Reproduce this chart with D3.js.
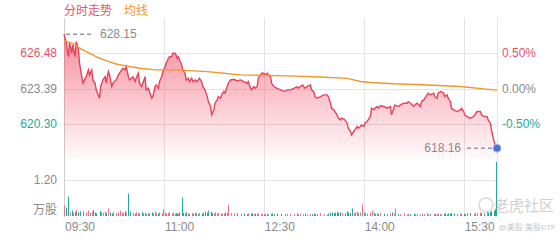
<!DOCTYPE html>
<html>
<head>
<meta charset="utf-8">
<script src="https://cdn.jsdelivr.net/npm/d3@7"></script>
<style>
  body { margin: 0; background: #fff; }
  text { font-family: "Liberation Sans", Arial, "Noto Sans CJK SC", sans-serif; }
</style>
</head>
<body>
<div id="chart"></div>
<script>
// minutes after 09:30 and last price
var minutes = [
  0,2,4,5,7,8,10,11,13,14,
  17,20,22,23,25,26,28,29,32,33,
  35,37,38,40,41,43,44,47,49,50,
  52,53,55,56,58,59,62,64,65,67,
  68,70,71,73,74,76,77,79,80,82,
  83,85,86,88,89,91,92,94,95,97,
  98,100,101,102,103,104,106,107,109,110,
  112,113,115,116,118,119,121,122,124,125,
  127,129,130,132,133,135,136,138,139,141,
  142,144,145,147,148,150,153,156,159,162,
  165,166,168,169,171,172,174,175,177,178,
  180,181,183,184,186,187,189,192,195,199,
  201,204,207,210,211,213,215,217,219,222,
  223,225,226,228,231,234,237,238,240,241,
  243,244,246,247,249,250,253,255,256,258,
  259,261,262,264,265,267,268,270,271,273,
  276,277,279,280,282,283,285,288,291,294,
  295,297,298,301,303,306,309,310,312,315,
  316,318,321,322,324,327,328,330,333,334,
  336,337,339,340,342,343,345,346,348,349,
  351,354,357,358,360,361,363,366,369,370,
  372,375,376,378,381,382,384,385,387,388,
  390
];
var prices = [
  628.15,627.38,626.18,627.38,626.51,627.21,626.18,627.50,626.77,625.60,
  623.85,624.43,625.02,624.58,625.02,624.14,623.85,623.27,622.54,623.56,
  624.14,624.43,623.85,624.87,624.58,623.56,623.85,624.14,624.58,624.73,
  625.02,625.17,625.02,625.31,624.43,624.14,624.43,623.99,624.29,624.73,
  623.85,623.56,623.85,624.43,623.27,623.41,623.12,622.54,622.68,623.56,
  623.70,623.41,623.99,624.43,624.87,625.31,625.60,626.04,626.18,626.18,
  626.48,626.48,626.33,626.04,626.18,625.89,625.46,625.02,624.73,624.14,
  624.29,623.99,624.29,623.99,624.14,623.99,624.14,624.29,623.99,623.56,
  623.27,622.68,622.24,621.81,621.08,621.52,622.10,622.39,622.68,622.54,
  622.83,623.12,622.98,623.56,623.85,624.14,624.20,624.05,624.14,623.99,
  623.85,623.99,623.41,623.27,623.56,623.41,623.56,624.29,624.58,624.73,
  624.73,624.58,624.73,624.58,624.43,623.85,623.56,623.41,623.27,623.12,
  623.27,623.27,623.41,623.56,623.41,623.56,623.70,623.41,623.56,623.70,
  623.27,623.12,622.68,622.54,622.68,622.83,622.83,622.68,622.10,621.66,
  621.52,621.37,621.08,620.79,620.64,620.79,620.64,620.35,619.91,619.62,
  619.33,619.62,619.77,620.06,619.91,620.06,620.20,620.06,620.35,620.49,
  620.96,621.66,621.52,621.66,621.81,621.66,621.87,621.81,621.66,621.81,
  621.08,621.66,621.95,621.81,621.95,622.10,622.10,622.24,622.10,621.81,
  621.95,622.10,621.81,622.24,622.39,622.83,622.98,622.83,622.98,622.68,
  622.54,622.98,623.12,623.12,622.98,622.68,622.83,622.54,622.24,621.66,
  621.52,621.37,621.52,621.66,621.37,621.08,620.93,620.79,620.93,621.08,
  621.37,621.37,621.08,620.93,620.93,620.64,620.35,619.77,618.89,618.54,
  618.16
];
// volume, 10k shares
var volumes = [
  0.35,0.28,0.65,0.12,0.18,0.10,0.14,0.20,0.12,0.16,
  0.15,0.12,0.18,0.10,0.14,0.20,0.12,0.09,0.16,0.13,
  0.11,0.15,0.10,0.25,0.12,0.08,0.14,0.10,0.12,0.18,
  0.12,0.09,0.16,0.11,0.75,0.14,0.10,0.08,0.12,0.10,
  0.08,0.13,0.09,0.11,0.07,0.10,0.08,0.12,0.09,0.14,
  0.10,0.08,0.12,0.09,0.22,0.11,0.08,0.10,0.13,0.09,
  0.12,0.08,0.10,0.07,0.09,0.11,0.62,0.10,0.08,0.12,
  0.09,0.07,0.10,0.08,0.12,0.09,0.07,0.10,0.08,0.11,
  0.15,0.12,0.18,0.14,0.10,0.09,0.12,0.08,0.10,0.07,
  0.09,0.08,0.12,0.10,0.38,0.10,0.08,0.09,0.07,0.08,
  0.06,0.09,0.07,0.10,0.06,0.08,0.07,0.09,0.06,0.08,
  0.07,0.06,0.08,0.05,0.07,0.09,0.06,0.08,0.07,0.06,
  0.08,0.06,0.07,0.09,0.05,0.07,0.06,0.08,0.05,0.07,
  0.06,0.08,0.07,0.06,0.09,0.07,0.05,0.08,0.10,0.12,
  0.09,0.11,0.14,0.10,0.12,0.09,0.08,0.15,0.12,0.10,
  0.25,0.10,0.12,0.14,0.09,0.11,0.38,0.12,0.10,0.08,
  0.12,0.18,0.10,0.08,0.09,0.07,0.10,0.08,0.06,0.09,
  0.12,0.08,0.25,0.07,0.06,0.08,0.05,0.07,0.06,0.08,
  0.06,0.07,0.05,0.08,0.06,0.09,0.07,0.06,0.08,0.07,
  0.06,0.08,0.07,0.05,0.07,0.09,0.06,0.08,0.07,0.10,
  0.08,0.06,0.09,0.07,0.08,0.06,0.09,0.10,0.08,0.11,
  0.09,0.12,0.10,0.08,0.13,0.11,0.14,0.16,0.18,0.22,
  1.80
];
// average price line
var avgMinutes = [0,2,8,14,20,26,32,38,47,56,68,83,98,113,129,144,159,177,201,231,255,267,276,297,327,357,387,390];
var avgPrices = [627.60,627.50,627.35,626.92,626.62,626.33,626.04,625.83,625.54,625.37,625.17,625.02,625.02,624.96,624.87,624.73,624.58,624.55,624.50,624.40,624.28,624.00,623.92,623.80,623.70,623.56,623.27,623.25];

var priceTicks = [626.48, 623.39, 620.30];
var pctTicks = ["0.50%", "0.00%", "-0.50%"];
var timeTicks = [0, 90, 180, 270, 360];
var timeLabels = ["09:30", "11:00", "12:30", "14:00", "15:30"];
var highPrice = 628.15, lastPrice = 618.16;

var svgWidth = 560, svgHeight = 240;
var left = 64, right = 497;

var RED = "#e8506a", TEAL = "#22aa9c", GRAY = "#8a8a8a", GRID = "#e4e4e4";

var svg = d3.select("#chart").append("svg")
  .attr("width", svgWidth).attr("height", svgHeight);

var x = d3.scaleLinear().domain([0, 390]).range([left, right]);
var y = d3.scaleLinear().domain([617.21, 629.57]).range([159, 18]);
var yv = d3.scaleLinear().domain([0, 1.2]).range([216, 180]);

var data = minutes.map((m, i) => ({ m: m, p: prices[i], v: volumes[i], up: i == 0 || prices[i] >= prices[i - 1] }));
var avgData = avgMinutes.map((m, i) => ({ m: m, p: avgPrices[i] }));

// gradient for area
var grad = svg.append("defs").append("linearGradient")
  .attr("id", "fill").attr("x1", 0).attr("y1", 0).attr("x2", 0).attr("y2", 1);
grad.append("stop").attr("offset", "0%").attr("stop-color", "#f04a64").attr("stop-opacity", 0.62);
grad.append("stop").attr("offset", "100%").attr("stop-color", "#f04a64").attr("stop-opacity", 0.03);

// grid
var grid = svg.append("g");
grid.selectAll(".hg").data(priceTicks).enter().append("line")
  .attr("x1", left).attr("x2", right)
  .attr("y1", d => Math.round(y(d)) + 0.5).attr("y2", d => Math.round(y(d)) + 0.5)
  .attr("stroke", GRID);
grid.append("line")
  .attr("x1", left).attr("x2", right)
  .attr("y1", Math.round(yv(1.2)) + 0.5).attr("y2", Math.round(yv(1.2)) + 0.5)
  .attr("stroke", GRID);
grid.selectAll(".vg").data(timeTicks.concat([390])).enter().append("line")
  .attr("x1", d => Math.round(x(d)) + 0.5).attr("x2", d => Math.round(x(d)) + 0.5)
  .attr("y1", 18).attr("y2", 217)
  .attr("stroke", (d, i) => i == 0 ? "#cfcfcf" : GRID);

// area + line
var area = d3.area().x(d => x(d.m)).y0(159).y1(d => y(d.p));
svg.append("path").datum(data).attr("d", area).attr("fill", "url(#fill)");

var line = d3.line().x(d => x(d.m)).y(d => y(d.p));
svg.append("path").datum(data).attr("d", line)
  .attr("fill", "none").attr("stroke", "#e8415c").attr("stroke-width", 1.4);

svg.append("path").datum(avgData).attr("d", line)
  .attr("fill", "none").attr("stroke", "#f0962e").attr("stroke-width", 1.4);

// volume bars
svg.selectAll(".vol").data(data).enter().append("rect")
  .attr("x", d => Math.round(x(d.m)) - (d.m == 390 ? 1 : 0))
  .attr("y", d => yv(d.v))
  .attr("width", 1)
  .attr("height", d => yv(0) - yv(d.v))
  .attr("fill", d => d.up ? "#ef6f86" : TEAL);

// left labels
var tickColors = [RED, GRAY, TEAL];
svg.selectAll(".lt").data(priceTicks).enter().append("text")
  .attr("x", 57).attr("y", d => y(d)).attr("dy", "0.35em")
  .attr("text-anchor", "end").attr("font-size", 12)
  .attr("fill", (d, i) => tickColors[i])
  .text(d => d.toFixed(2));
svg.selectAll(".rt").data(pctTicks).enter().append("text")
  .attr("x", 502).attr("y", (d, i) => y(priceTicks[i])).attr("dy", "0.35em")
  .attr("font-size", 12)
  .attr("fill", (d, i) => tickColors[i])
  .text(d => d);
svg.append("text").attr("x", 57).attr("y", yv(1.2)).attr("dy", "0.35em")
  .attr("text-anchor", "end").attr("font-size", 12).attr("fill", GRAY).text("1.20");
svg.append("text").attr("x", 57).attr("y", 210).attr("dy", "0.35em")
  .attr("text-anchor", "end").attr("font-size", 12).attr("fill", GRAY).text("万股");

// time labels
svg.selectAll(".tt").data(timeTicks).enter().append("text")
  .attr("x", d => x(d) + 1).attr("y", 231)
  .attr("font-size", 12).attr("fill", GRAY)
  .text((d, i) => timeLabels[i]);

// header
svg.append("text").attr("x", 64).attr("y", 15).attr("font-size", 12).attr("fill", RED).text("分时走势");
svg.append("text").attr("x", 124).attr("y", 15).attr("font-size", 12).attr("fill", "#f0962e").text("均线");

// high marker
svg.append("line").attr("x1", 66).attr("x2", 94)
  .attr("y1", y(highPrice)).attr("y2", y(highPrice))
  .attr("stroke", "#8e9aa8").attr("stroke-width", 1.5).attr("stroke-dasharray", "4,3");
svg.append("text").attr("x", 100).attr("y", y(highPrice)).attr("dy", "0.35em")
  .attr("font-size", 12).attr("fill", GRAY).text(highPrice.toFixed(2));

// last marker
svg.append("line").attr("x1", 467).attr("x2", 494)
  .attr("y1", y(lastPrice)).attr("y2", y(lastPrice))
  .attr("stroke", "#8e9aa8").attr("stroke-width", 1.5).attr("stroke-dasharray", "4,3");
svg.append("text").attr("x", 461).attr("y", y(lastPrice)).attr("dy", "0.35em")
  .attr("text-anchor", "end").attr("font-size", 12).attr("fill", GRAY).text(lastPrice.toFixed(2));
svg.append("circle").attr("cx", x(390)).attr("cy", y(lastPrice)).attr("r", 4)
  .attr("fill", "#4a72d6").attr("stroke", "#a9bdf0").attr("stroke-width", 1);

// watermark
var wm = svg.append("g").attr("opacity", 0.55);
wm.append("circle").attr("cx", 486).attr("cy", 205).attr("r", 7)
  .attr("fill", "none").attr("stroke", "#bbb").attr("stroke-width", 1.5);
wm.append("text").attr("x", 494).attr("y", 211).attr("font-size", 15).attr("fill", "#aaa").text("老虎社区");
wm.append("text").attr("x", 556).attr("y", 230).attr("text-anchor", "end")
  .attr("font-size", 8).attr("fill", "#999").text("@美股 美股ETF");
</script>
</body>
</html>
